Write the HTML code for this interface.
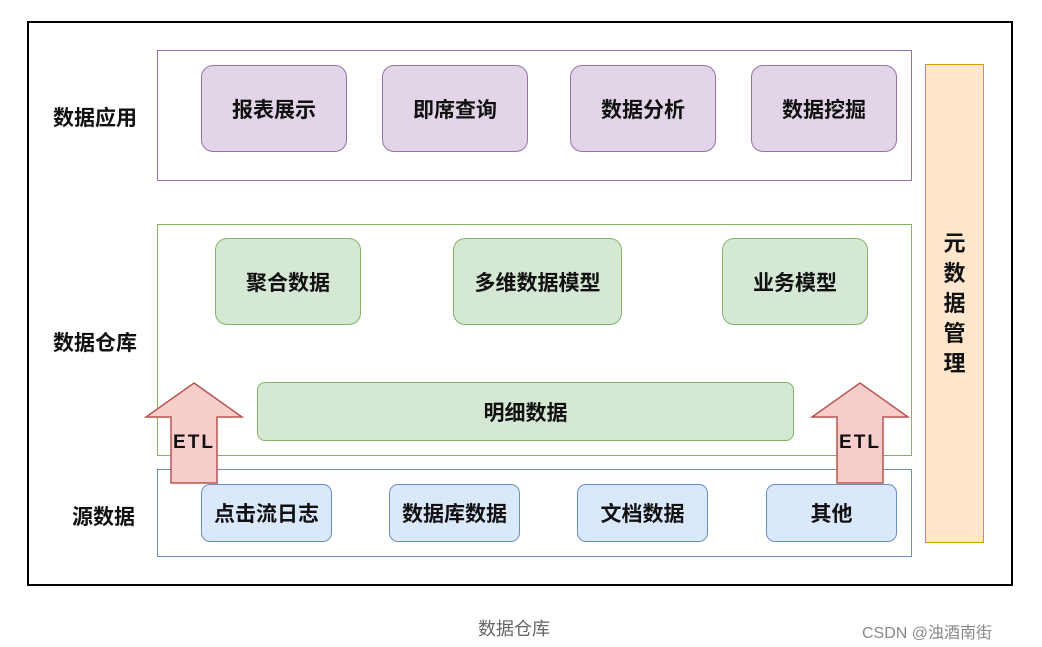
<!DOCTYPE html>
<html><head><meta charset="utf-8"><style>
body{margin:0;width:1042px;height:647px;background:#fff;position:relative;overflow:hidden;font-family:"Liberation Sans","Noto Sans CJK SC",sans-serif;}
.a{position:absolute;box-sizing:border-box;}
.n{position:absolute;box-sizing:border-box;border-radius:12px;display:flex;align-items:center;justify-content:center;font-size:21px;color:#111;font-weight:bold;}
.p{background:#e1d5e7;border:1.5px solid #9673a6;}
.g{background:#d5e8d4;border:1.5px solid #82b366;}
.b{background:#dae8fc;border:1.5px solid #6c8ebf;}
.l{position:absolute;font-size:21px;font-weight:bold;color:#111;}
</style></head><body>
<div class="a" style="left:27px;top:21px;width:986px;height:565px;border:2px solid #000;"></div>
<div class="a" style="left:157px;top:50px;width:755px;height:131px;border:1.5px solid #9673a6;"></div>
<div class="a" style="left:157px;top:224px;width:755px;height:232px;border:1.5px solid #82b366;"></div>
<div class="a" style="left:157px;top:469px;width:755px;height:88px;border:1.5px solid #6c8ebf;"></div>
<div class="l" style="left:53px;top:102px;">数据应用</div>
<div class="l" style="left:53px;top:327px;">数据仓库</div>
<div class="l" style="left:72px;top:501px;">源数据</div>
<div class="n p" style="left:201px;top:65px;width:146px;height:87px;">报表展示</div>
<div class="n p" style="left:382px;top:65px;width:146px;height:87px;">即席查询</div>
<div class="n p" style="left:570px;top:65px;width:146px;height:87px;">数据分析</div>
<div class="n p" style="left:751px;top:65px;width:146px;height:87px;">数据挖掘</div>
<div class="n g" style="left:215px;top:238px;width:146px;height:87px;">聚合数据</div>
<div class="n g" style="left:453px;top:238px;width:169px;height:87px;">多维数据模型</div>
<div class="n g" style="left:722px;top:238px;width:146px;height:87px;">业务模型</div>
<div class="n g" style="left:257px;top:382px;width:537px;height:59px;border-radius:8px;">明细数据</div>
<div class="n b" style="left:201px;top:484px;width:131px;height:58px;border-radius:9px;">点击流日志</div>
<div class="n b" style="left:389px;top:484px;width:131px;height:58px;border-radius:9px;">数据库数据</div>
<div class="n b" style="left:577px;top:484px;width:131px;height:58px;border-radius:9px;">文档数据</div>
<div class="n b" style="left:766px;top:484px;width:131px;height:58px;border-radius:9px;">其他</div>
<div class="a" style="left:925px;top:64px;width:59px;height:479px;background:#ffe6cc;border:1.5px solid #d79b00;display:flex;align-items:center;justify-content:center;font-size:22px;line-height:30px;color:#111;text-align:center;font-weight:bold;">元<br>数<br>据<br>管<br>理</div>
<svg class="a" style="left:0;top:0" width="1042" height="647">
<polygon points="194,383 242,417 217,417 217,483 171,483 171,417 146,417" fill="#f8cecc" stroke="#b85450" stroke-width="1.5"/>
<polygon points="860,383 908,417 883,417 883,483 837,483 837,417 812,417" fill="#f8cecc" stroke="#b85450" stroke-width="1.5"/>
<text x="194" y="448" font-size="19" font-weight="bold" text-anchor="middle" letter-spacing="2" font-family="Liberation Sans,sans-serif" fill="#111">ETL</text>
<text x="860" y="448" font-size="19" font-weight="bold" text-anchor="middle" letter-spacing="2" font-family="Liberation Sans,sans-serif" fill="#111">ETL</text>
</svg>
<div class="a" style="left:478px;top:615px;font-size:18px;color:#666;">数据仓库</div>
<div class="a" style="left:862px;top:619px;font-size:16px;color:#888;">CSDN @浊酒南街</div>
</body></html>
